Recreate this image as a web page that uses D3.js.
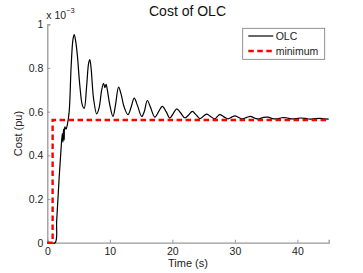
<!DOCTYPE html>
<html>
<head>
<meta charset="utf-8">
<script src="https://cdn.jsdelivr.net/npm/d3@7"></script>
<style>
body { margin: 0; background: #fff; }
svg { display: block; font-family: "Liberation Sans", Arial, sans-serif; }
</style>
</head>
<body>
<svg id="chart" width="363" height="273"></svg>
<script>
// cost values are in units of 10^-3 pu
var olcTime = [0, 1.25, 1.5, 1.9, 2.2, 2.4, 2.5, 2.6, 2.7, 2.8, 3.0, 3.2, 3.5, 3.8, 4.1, 4.3, 4.5, 4.8, 5.2, 5.6,
    5.9, 6.3, 6.6, 6.8, 7.0, 7.4, 7.9, 8.3, 8.7, 9.0, 9.2, 9.4, 9.6, 10.0, 10.5, 10.9, 11.4, 11.8, 12.3, 12.9,
    13.4, 13.9, 14.4, 15.1, 15.5, 16.0, 16.5, 17.2, 17.8, 18.4, 19.0, 19.6, 20.1, 20.7, 21.3, 22.0, 22.6, 23.2,
    23.8, 24.4, 25.0, 25.5, 26.1, 26.8, 27.2, 27.6, 28.3, 28.9, 29.5, 30.0, 30.7, 31.2, 31.9, 32.5, 33.2, 33.8,
    34.6, 35.3, 36.0, 36.8, 37.5, 38.2, 39.0, 39.8, 40.5, 41.3, 42.0, 42.8, 43.6, 44.3, 45];
var olcCost = [0, 0, 0.1, 0.3, 0.43, 0.5, 0.46, 0.52, 0.47, 0.53, 0.52, 0.54, 0.6, 0.8, 0.93, 0.953, 0.93, 0.86, 0.72, 0.63,
    0.615, 0.72, 0.82, 0.838, 0.8, 0.66, 0.59, 0.62, 0.70, 0.73, 0.71, 0.725, 0.70, 0.63, 0.578, 0.63, 0.712, 0.68, 0.62, 0.586,
    0.62, 0.662, 0.63, 0.578, 0.6, 0.651, 0.62, 0.575, 0.6, 0.624, 0.6, 0.571, 0.59, 0.613, 0.595, 0.572, 0.585, 0.601,
    0.585, 0.568, 0.58, 0.589, 0.578, 0.567, 0.578, 0.586, 0.575, 0.567, 0.575, 0.581, 0.572, 0.567, 0.574, 0.578, 0.57, 0.567,
    0.574, 0.575, 0.568, 0.567, 0.572, 0.572, 0.567, 0.568, 0.571, 0.569, 0.566, 0.568, 0.569, 0.567, 0.566];
var minTime = [0, 0.85, 0.85, 45];
var minCost = [0, 0, 0.562, 0.562];

var xTicks = [0, 10, 20, 30, 40];
var yTicks = [0, 0.2, 0.4, 0.6, 0.8, 1];
var legendLabels = ['OLC', 'minimum'];

var margin = {left: 47.3, right: 34.3, top: 24.3, bottom: 30.3},
    width = 363, height = 273;

var svg = d3.select('#chart');

var x = d3.scaleLinear().domain([0, 45]).range([margin.left, width - margin.right]);
var y = d3.scaleLinear().domain([0, 1]).range([height - margin.bottom, margin.top]);

// axes, matlab style ticks pointing inward
var xAxis = svg.append('g')
    .attr('transform', 'translate(0,' + y(0) + ')')
    .call(d3.axisBottom(x).tickValues(xTicks).tickSize(-3).tickPadding(5).tickFormat(d3.format('d')));
var yAxis = svg.append('g')
    .attr('transform', 'translate(' + x(0) + ',0)')
    .call(d3.axisLeft(y).tickValues(yTicks).tickSize(-3).tickPadding(4).tickFormat(function(d) {
        return d === 0 || d === 1 ? d : d3.format('.1f')(d);
    }));

[xAxis, yAxis].forEach(function(a) {
    a.select('.domain').attr('stroke', '#999').attr('stroke-width', 1.3);
    a.selectAll('.tick line').attr('stroke', '#999');
    a.selectAll('.tick text').attr('fill', '#222').style('font-size', '10.5px');
});

var lineOLC = d3.line()
    .x(function(d) { return x(d[0]); })
    .y(function(d) { return y(d[1]); })
    .curve(d3.curveCatmullRom.alpha(0.5));
var lineMin = d3.line()
    .x(function(d) { return x(d[0]); })
    .y(function(d) { return y(d[1]); });

svg.append('path')
    .datum(d3.zip(olcTime, olcCost))
    .attr('d', lineOLC)
    .attr('fill', 'none')
    .attr('stroke', '#000')
    .attr('stroke-width', 1.2);

svg.append('path')
    .datum(d3.zip(minTime, minCost))
    .attr('d', lineMin)
    .attr('fill', 'none')
    .attr('stroke', '#ff0000')
    .attr('stroke-width', 2.4)
    .attr('stroke-dasharray', '5.5,3.5');

// exponent label
var expo = svg.append('text')
    .attr('x', x(0) - 1)
    .attr('y', 18.5)
    .attr('fill', '#222')
    .style('font-size', '10.5px');
expo.append('tspan').text('x 10');
expo.append('tspan').attr('dy', -5.5).style('font-size', '7.5px').text('\u22123');

svg.append('text')
    .attr('x', 187.5)
    .attr('y', 15.5)
    .attr('text-anchor', 'middle')
    .attr('fill', '#111')
    .style('font-size', '14px')
    .text('Cost of OLC');

svg.append('text')
    .attr('x', (x(0) + x(45)) / 2)
    .attr('y', 267)
    .attr('text-anchor', 'middle')
    .attr('fill', '#222')
    .style('font-size', '11px')
    .text('Time (s)');

svg.append('text')
    .attr('transform', 'translate(22,' + (y(0) + y(1)) / 2 + ') rotate(-90)')
    .attr('text-anchor', 'middle')
    .attr('fill', '#222')
    .style('font-size', '11px')
    .text('Cost (pu)');

// legend
var legend = svg.append('g').attr('transform', 'translate(242.7,28.3)');
legend.append('rect')
    .attr('width', 82)
    .attr('height', 31)
    .attr('fill', '#fff')
    .attr('stroke', '#777')
    .attr('stroke-width', 0.8);

legendLabels.forEach(function(lbl, i) {
    var ly = 7.7 + i * 15;
    legend.append('line')
        .attr('x1', 5.6).attr('x2', 30.6)
        .attr('y1', ly).attr('y2', ly)
        .attr('stroke', i === 0 ? '#000' : '#ff0000')
        .attr('stroke-width', i === 0 ? 1.2 : 2.4)
        .attr('stroke-dasharray', i === 0 ? null : '5.5,3.5');
    legend.append('text')
        .attr('x', 33)
        .attr('y', ly + 3.7)
        .attr('fill', '#222')
        .style('font-size', '10.5px')
        .text(lbl);
});
</script>
</body>
</html>
